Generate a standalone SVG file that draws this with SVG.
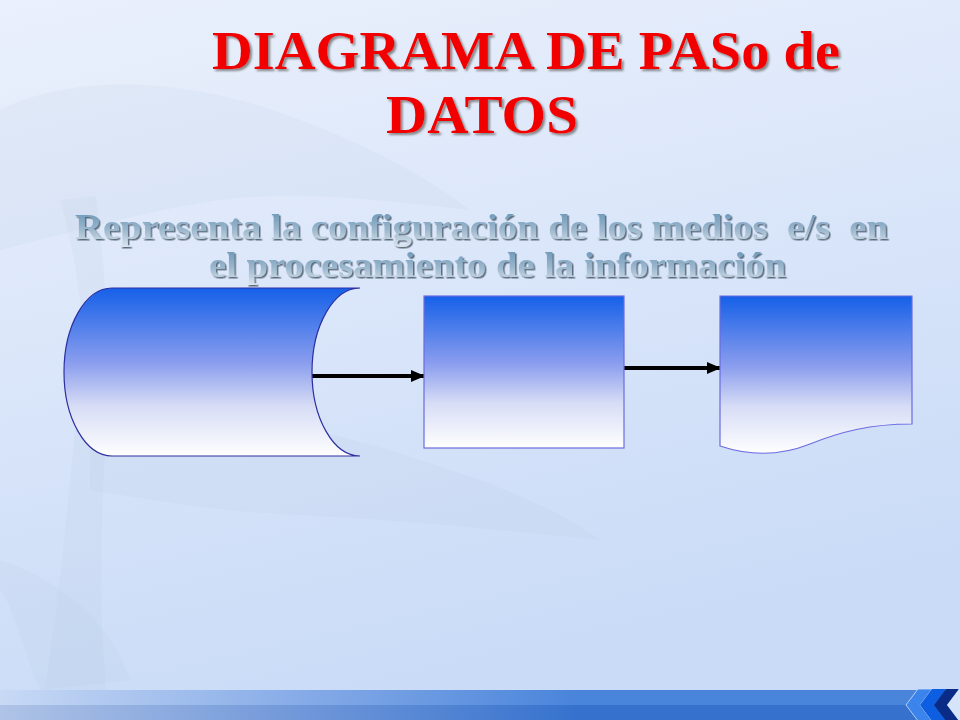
<svg xmlns="http://www.w3.org/2000/svg" width="960" height="720" viewBox="0 0 960 720">
  <defs>
    <linearGradient id="bg" x1="0" y1="0" x2="0.3" y2="1">
      <stop offset="0" stop-color="#eaf0fc"/>
      <stop offset="1" stop-color="#c9dbf7"/>
    </linearGradient>
    <linearGradient id="shapeFill" x1="0" y1="0" x2="0" y2="1">
      <stop offset="0" stop-color="#1560e8"/>
      <stop offset="0.45" stop-color="#8c9eee"/>
      <stop offset="0.7" stop-color="#d6dcf5"/>
      <stop offset="1" stop-color="#ffffff"/>
    </linearGradient>
    <linearGradient id="subFill" x1="0" y1="0" x2="0" y2="1">
      <stop offset="0" stop-color="#5e8fb4"/>
      <stop offset="0.55" stop-color="#9ab6cc"/>
      <stop offset="1" stop-color="#dbe6ef"/>
    </linearGradient>
    <linearGradient id="barFill" x1="0" y1="0" x2="1" y2="0">
      <stop offset="0" stop-color="#c3d6f4"/>
      <stop offset="0.3" stop-color="#7fa6e6"/>
      <stop offset="0.6" stop-color="#3a7ad8"/>
      <stop offset="1" stop-color="#3a7ad8"/>
    </linearGradient>
    <linearGradient id="barShade" x1="0" y1="0" x2="0" y2="1">
      <stop offset="0" stop-color="#ffffff" stop-opacity="0.08"/>
      <stop offset="0.5" stop-color="#ffffff" stop-opacity="0.08"/>
      <stop offset="0.5" stop-color="#1a3a80" stop-opacity="0.12"/>
      <stop offset="1" stop-color="#1a3a80" stop-opacity="0.12"/>
    </linearGradient>
    <filter id="titleShadow" x="-5%" y="-20%" width="110%" height="140%">
      <feDropShadow dx="2" dy="2" stdDeviation="1" flood-color="#6a6a6a" flood-opacity="0.8"/>
    </filter>
    <filter id="subShadow" x="-5%" y="-20%" width="110%" height="140%">
      <feDropShadow dx="1.5" dy="1.5" stdDeviation="0.6" flood-color="#4a5868" flood-opacity="0.85"/>
    </filter>
    <marker id="arrow" markerWidth="14" markerHeight="12" refX="13" refY="6" orient="auto" markerUnits="userSpaceOnUse">
      <path d="M0,0 L14,6 L0,12 Z" fill="#000"/>
    </marker>
    <style>
      .title { font-family: "Liberation Serif", "Times New Roman", serif; font-weight: bold; font-size: 54px; fill: #f20000; }
      .sub { font-family: "Liberation Serif", "Times New Roman", serif; font-weight: bold; font-size: 36px; fill: url(#subFill); white-space: pre; }
      .shape { fill: url(#shapeFill); stroke: #6b6be0; stroke-width: 1.2; }
      .cyl { fill: url(#shapeFill); stroke: #2e2ea0; stroke-width: 1.2; }
      .conn { stroke: #000; stroke-width: 4; fill: none; }
      .tree { fill: #a9bcd8; opacity: 0.09; }
    </style>
  </defs>

  <!-- background -->
  <rect x="0" y="0" width="960" height="720" fill="url(#bg)"/>
  <g id="watermark">
    <path class="tree" d="M40,720 C60,600 70,480 80,380 C88,300 70,240 60,200 L96,196 C104,260 110,330 106,420 C102,520 96,620 110,720 Z"/>
    <path class="tree" d="M0,110 C80,70 200,80 300,120 C380,150 430,180 470,210 C380,200 300,190 220,200 C150,210 80,230 0,250 Z"/>
    <path class="tree" d="M90,420 C180,400 300,420 420,460 C500,485 560,510 600,540 C500,530 400,520 300,515 C220,512 150,500 90,490 Z"/>
    <path class="tree" d="M0,560 C60,580 110,620 130,680 L40,690 C20,640 10,600 0,590 Z"/>
  </g>

  <!-- bottom bar -->
  <g id="footer">
    <rect x="0" y="690" width="960" height="30" fill="url(#barFill)"/>
    <rect x="0" y="690" width="960" height="30" fill="url(#barShade)"/>
    <polygon points="918,689 906,705 918,721 932,721 920,705 932,689" fill="#3a84ec" stroke="#cfe0fa" stroke-width="0.8"/>
    <polygon points="932,689 920,705 932,721 946,721 934,705 946,689" fill="#0d5ee0"/>
    <polygon points="946,689 934,705 946,721 959,721 947,705 959,689" fill="#0a2c86"/>
    <polygon points="959,689 947,705 959,721 960,721 960,689" fill="#d6e4fa"/>
  </g>

  <!-- title -->
  <g id="title" filter="url(#titleShadow)">
    <text class="title" x="212" y="69" textLength="628" lengthAdjust="spacingAndGlyphs">DIAGRAMA DE PASo de</text>
    <text class="title" x="386" y="133" textLength="192" lengthAdjust="spacingAndGlyphs">DATOS</text>
  </g>

  <!-- subtitle -->
  <g id="subtitle" filter="url(#subShadow)">
    <text class="sub" x="75" y="239" textLength="813" lengthAdjust="spacingAndGlyphs">Representa la configuración de los medios  e/s  en</text>
    <text class="sub" x="209" y="277" textLength="577" lengthAdjust="spacingAndGlyphs">el procesamiento de la información</text>
  </g>

  <!-- connectors -->
  <g id="connectors">
    <line class="conn" x1="311" y1="376" x2="424" y2="376" marker-end="url(#arrow)"/>
    <line class="conn" x1="624" y1="368" x2="720" y2="368" marker-end="url(#arrow)"/>
  </g>

  <!-- nodes -->
  <g id="node-storage">
    <path class="cyl" d="M112,288 L360,288 A48,84 0 0 0 360,456 L112,456 A48,84 0 0 1 112,288 Z"/>
  </g>
  <g id="node-process">
    <rect class="shape" x="424" y="296" width="200" height="152"/>
  </g>
  <g id="node-document">
    <path class="shape" d="M720,296 L912,296 L912,424 C870,424 840,432 810,444 C780,456 750,456 720,446 Z"/>
  </g>
</svg>
